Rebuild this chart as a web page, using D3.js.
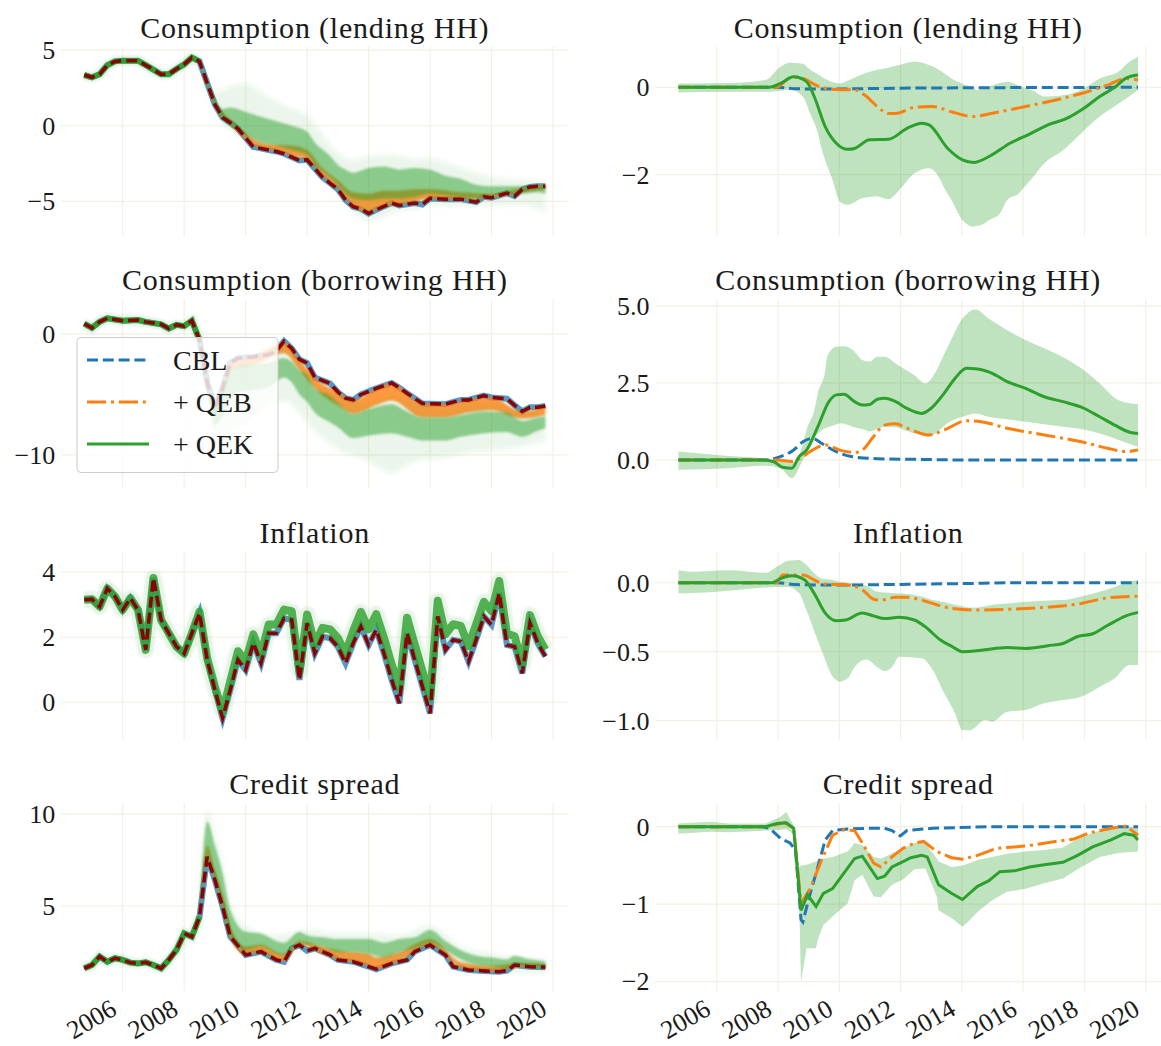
<!DOCTYPE html>
<html>
<head>
<meta charset="utf-8">
<script src="https://cdn.jsdelivr.net/npm/d3@7"></script>
<style>
body { margin: 0; background: #fff; }
svg text { font-family: "Liberation Serif", "DejaVu Serif", serif; fill: #1a1a1a; }
</style>
</head>
<body>
<svg id="chart" width="1161" height="1046"></svg>
<script>
// ---- data: left column (data vs. counterfactual paths), [year, value] or [year, lo, hi]
var lendActual = [[2004.75,3.35],[2005,3.2],[2005.25,3.4],[2005.5,4.0],[2005.75,4.25],[2006,4.3],[2006.5,4.3],[2006.75,4.0],[2007.25,3.4],[2007.5,3.4],[2007.75,3.75],[2008,4.05],[2008.25,4.5],[2008.5,4.25],[2008.75,2.8],[2009,1.4],[2009.25,0.55],[2009.5,0.2],[2009.75,-0.2],[2010.25,-1.4],[2010.75,-1.6],[2011,-1.7],[2011.25,-1.85],[2011.75,-2.3],[2012,-2.25],[2012.5,-3.4],[2012.75,-3.8],[2013,-4.2],[2013.25,-4.9],[2013.5,-5.35],[2013.75,-5.5],[2014,-5.8],[2014.25,-5.55],[2014.75,-5.1],[2015,-5.27],[2015.5,-5.1],[2015.75,-5.2],[2016,-4.8],[2016.5,-4.85],[2017,-4.85],[2017.5,-5.05],[2017.75,-4.7],[2018,-4.75],[2018.5,-4.45],[2018.75,-4.65],[2019,-4.2],[2019.25,-4.05],[2019.5,-4.0],[2019.75,-4.0]];
var lendGreenCore = [[2008.5,4.15,4.3],[2008.75,2.6,3.0],[2009,1.3,1.8],[2009.25,0.4,1.1],[2009.5,0.0,1.2],[2009.75,-0.3,1.1],[2010,-0.6,0.9],[2010.5,-1.1,0.6],[2011,-1.3,0.3],[2011.5,-1.6,0.0],[2012,-1.9,-0.4],[2012.25,-2.6,-1.1],[2012.75,-3.4,-2.0],[2013,-3.9,-2.6],[2013.25,-4.5,-2.9],[2013.5,-4.8,-3.1],[2014,-4.9,-2.8],[2014.5,-4.8,-2.7],[2015,-4.8,-2.9],[2015.5,-4.7,-2.8],[2016,-4.5,-2.9],[2016.5,-4.6,-3.3],[2017,-4.7,-3.5],[2017.5,-4.8,-3.9],[2018,-4.6,-4.0],[2018.5,-4.5,-4.0],[2019,-4.5,-4.0],[2019.5,-4.4,-3.9],[2019.75,-4.5,-4.0]];
var lendGreenOuter = [[2008.5,4.1,4.4],[2008.75,2.5,3.2],[2009,1.0,2.2],[2009.5,-0.3,2.6],[2010,-0.9,2.8],[2010.5,-1.4,2.2],[2011,-1.7,1.6],[2011.5,-1.9,1.1],[2012,-2.3,0.7],[2012.5,-3.2,-0.6],[2013,-4.4,-1.8],[2013.5,-5.6,-2.3],[2014,-6.3,-2.0],[2014.5,-6.0,-1.9],[2015,-5.6,-2.0],[2015.5,-5.5,-2.2],[2016,-5.2,-2.2],[2017,-5.3,-2.8],[2018,-5.3,-3.4],[2019,-5.2,-3.6],[2019.75,-5.8,-3.8]];
var lendOrange = [[2008.5,4.2,4.3],[2008.75,2.7,2.9],[2009,1.3,1.6],[2009.5,0.1,0.4],[2010,-0.9,-0.5],[2010.5,-1.5,-1.1],[2011,-1.65,-1.25],[2011.5,-2.0,-1.3],[2012,-2.2,-1.6],[2012.5,-3.3,-2.8],[2013,-4.1,-3.6],[2013.5,-5.3,-4.4],[2014,-5.7,-4.5],[2014.5,-5.3,-4.3],[2015,-5.2,-4.3],[2015.5,-5.0,-4.2],[2016,-4.8,-4.2],[2017,-4.85,-4.4],[2018,-4.75,-4.5],[2019,-4.4,-4.1],[2019.75,-4.2,-3.9]];

var borrowActual = [[2004.75,0.85],[2005,0.5],[2005.25,1.0],[2005.5,1.3],[2006,1.1],[2006.5,1.15],[2006.75,1.0],[2007.25,0.8],[2007.5,0.45],[2007.75,0.75],[2008,0.65],[2008.25,1.1],[2008.5,-0.5],[2008.75,-4.0],[2009,-6.1],[2009.25,-4.5],[2009.5,-2.4],[2009.75,-2.0],[2010.25,-1.9],[2010.75,-1.7],[2011,-1.4],[2011.25,-0.6],[2011.5,-1.2],[2011.75,-2.1],[2012,-2.4],[2012.25,-3.6],[2012.75,-4.1],[2013,-4.8],[2013.25,-5.3],[2013.5,-5.45],[2013.75,-5.0],[2014.25,-4.5],[2014.75,-4.05],[2015,-4.45],[2015.25,-4.9],[2015.75,-5.75],[2016.5,-5.8],[2017,-5.45],[2017.25,-5.45],[2017.75,-5.1],[2018,-5.25],[2018.5,-5.35],[2018.75,-5.9],[2019,-6.4],[2019.25,-6.05],[2019.5,-6.05],[2019.75,-5.95]];
var borrowGreenCore = [[2008.5,-0.8,-0.3],[2008.75,-4.6,-3.8],[2009,-7.5,-6.0],[2009.25,-6.8,-4.8],[2009.5,-5.3,-3.0],[2009.75,-4.8,-2.6],[2010.25,-4.6,-2.5],[2010.75,-4.4,-2.4],[2011,-3.9,-2.1],[2011.25,-3.6,-2.0],[2011.5,-4.0,-2.3],[2011.75,-5.0,-3.0],[2012,-5.6,-3.4],[2012.25,-6.5,-4.5],[2012.75,-7.3,-5.1],[2013,-7.7,-5.7],[2013.5,-8.6,-6.6],[2014,-8.4,-6.2],[2014.75,-8.2,-5.8],[2015.25,-8.5,-6.4],[2015.75,-8.8,-6.9],[2016.5,-8.8,-6.9],[2017,-8.5,-6.7],[2017.75,-8.2,-6.4],[2018.5,-8.1,-6.5],[2018.75,-8.3,-6.9],[2019,-8.5,-7.2],[2019.5,-8.0,-6.9],[2019.75,-7.8,-6.8]];
var borrowGreenOuter = [[2008.5,-1.0,-0.2],[2008.75,-5.0,-3.5],[2009,-9.0,-5.5],[2009.5,-8.5,-2.8],[2010.25,-7.0,-2.0],[2011.25,-5.5,-1.0],[2012.25,-8.0,-4.2],[2013,-9.5,-5.3],[2014,-10.5,-5.8],[2014.75,-11.5,-5.2],[2015.5,-10.5,-5.8],[2016.5,-10.2,-6.3],[2017.5,-9.7,-5.8],[2018.5,-9.5,-6.0],[2019.75,-8.8,-6.5]];
var borrowOrange = [[2008.5,-0.6,-0.4],[2008.75,-4.2,-3.9],[2009,-6.4,-6.0],[2009.5,-3.0,-2.4],[2010.25,-2.6,-1.9],[2011.25,-1.6,-0.7],[2011.75,-3.0,-2.1],[2012.25,-4.5,-3.6],[2013,-5.9,-4.8],[2013.5,-6.6,-5.45],[2014.25,-5.9,-4.5],[2014.75,-5.5,-4.05],[2015.75,-6.9,-5.75],[2016.5,-6.9,-5.8],[2017.25,-6.5,-5.45],[2018,-6.3,-5.25],[2019,-7.0,-6.4],[2019.75,-6.7,-5.95]];

// inflation is quarterly, 2004Q4 .. 2019Q4
var inflActual = [3.15,3.17,2.94,3.5,3.25,2.84,3.2,2.84,1.61,3.82,2.53,2.12,1.71,1.5,2.12,2.74,1.3,0.38,-0.49,0.38,1.3,0.99,1.82,1.2,2.12,2.12,2.58,2.53,0.69,2.43,1.5,2.02,1.97,1.71,1.2,1.82,2.33,1.76,2.23,1.5,0.69,-0.03,2.12,1.3,0.48,-0.34,2.64,1.61,1.92,1.87,1.25,1.92,2.64,2.38,3.35,1.76,1.71,0.89,2.43,1.82,1.41];
var inflGreen = [3.15,3.17,2.94,3.5,3.25,2.84,3.2,2.84,1.61,3.82,2.53,2.12,1.71,1.5,2.12,2.79,1.35,0.48,-0.29,0.65,1.57,1.26,2.09,1.47,2.39,2.39,2.85,2.8,0.96,2.7,1.77,2.29,2.24,1.98,1.5,2.2,2.78,2.24,2.71,1.98,1.17,0.45,2.6,1.78,0.96,0.14,3.12,2.09,2.4,2.35,1.73,2.4,3.09,2.8,3.73,2.11,2.03,1.17,2.68,2.04,1.62];

var creditActual = [[2004.75,1.61],[2005,1.79],[2005.25,2.25],[2005.5,1.97],[2005.75,2.16],[2006,2.07],[2006.25,1.92],[2006.5,1.88],[2006.75,1.94],[2007,1.79],[2007.25,1.61],[2007.5,2.07],[2007.75,2.61],[2008,3.51],[2008.25,3.33],[2008.5,4.42],[2008.75,7.68],[2009,6.41],[2009.25,4.96],[2009.5,3.33],[2010,2.34],[2010.5,2.52],[2011,2.07],[2011.25,1.97],[2011.5,2.7],[2011.75,2.88],[2012,2.57],[2012.25,2.7],[2012.75,2.34],[2013,2.07],[2013.5,1.97],[2014,1.7],[2014.25,1.56],[2014.75,1.88],[2015.25,2.07],[2015.5,2.52],[2016,2.88],[2016.5,2.34],[2016.75,1.7],[2017.25,1.52],[2017.75,1.47],[2018.25,1.43],[2018.5,1.49],[2018.75,1.79],[2019.25,1.7],[2019.75,1.67]];
var creditGreenCore = [[2008.5,4.3,4.9],[2008.75,7.7,9.6],[2009,6.5,8.3],[2009.25,5.0,6.8],[2009.5,3.4,4.8],[2010,2.6,3.6],[2010.5,2.8,3.5],[2011,2.4,3.1],[2011.25,2.3,3.0],[2011.75,3.0,3.6],[2012,2.9,3.4],[2012.5,2.8,3.3],[2013,2.5,3.2],[2013.5,2.5,3.2],[2014,2.4,3.2],[2014.5,2.2,3.0],[2015,2.5,3.2],[2015.5,2.7,3.3],[2016,3.0,3.7],[2016.5,2.6,3.1],[2017,2.1,2.6],[2017.5,1.8,2.3],[2018,1.7,2.2],[2018.5,1.6,2.1],[2018.75,1.8,2.3],[2019.25,1.7,2.1],[2019.75,1.6,2.0]];
var creditGreenOuter = [[2008.5,4.2,5.2],[2008.75,7.5,10.2],[2009,6.3,8.8],[2009.25,4.8,7.2],[2009.5,3.3,5.1],[2010,2.4,3.9],[2011,2.2,3.4],[2012,2.6,3.7],[2013,2.2,3.5],[2014,2.0,3.5],[2015,2.1,3.4],[2016,2.7,3.9],[2017,1.8,2.8],[2018,1.4,2.4],[2019,1.4,2.2],[2019.75,1.4,2.1]];
var creditOrange = [[2008.5,4.35,4.6],[2008.75,7.6,8.3],[2009,6.4,7.0],[2009.25,4.9,5.6],[2009.5,3.3,3.9],[2010,2.35,2.8],[2010.5,2.5,2.9],[2011,2.1,2.5],[2011.25,2.0,2.4],[2011.75,2.9,3.1],[2012.5,2.4,2.8],[2013,2.1,2.6],[2014,1.75,2.4],[2014.25,1.6,2.2],[2015,2.0,2.5],[2016,2.9,3.2],[2017,1.65,1.95],[2018,1.45,1.75],[2019,1.7,1.9],[2019.75,1.65,1.85]];

// ---- data: right column (effects), [year, value] and band [year, lo, hi]
var r1CBL = [[2004.75,0],[2008.0,0],[2008.5,-0.03],[2009.5,-0.04],[2012,-0.02],[2019.75,0]];
var r1QEB = [[2004.75,0],[2007.96,0],[2008.2,0.12],[2008.45,0.24],[2008.7,0.22],[2008.93,0.17],[2009.2,0.06],[2009.42,0],[2009.9,-0.05],[2010.5,-0.06],[2010.87,-0.2],[2011.24,-0.44],[2011.6,-0.6],[2011.84,-0.6],[2012.45,-0.46],[2013.05,-0.44],[2013.66,-0.56],[2014.39,-0.67],[2014.87,-0.61],[2016.08,-0.44],[2017.3,-0.25],[2017.9,-0.14],[2018.75,0.05],[2019.36,0.2],[2019.75,0.17]];
var r1QEK = [[2004.75,0],[2007.72,0],[2008.08,0.09],[2008.51,0.24],[2008.93,0.13],[2009.18,-0.21],[2009.54,-0.9],[2009.9,-1.28],[2010.27,-1.42],[2010.5,-1.4],[2010.99,-1.2],[2011.6,-1.19],[2012.21,-0.94],[2012.69,-0.82],[2012.93,-0.86],[2013.54,-1.4],[2014.02,-1.66],[2014.39,-1.72],[2014.87,-1.59],[2015.6,-1.27],[2016.21,-1.07],[2016.81,-0.86],[2017.42,-0.71],[2018.02,-0.46],[2018.5,-0.21],[2018.99,0],[2019.36,0.21],[2019.75,0.28]];
var r1Band = [[2004.75,-0.12,0.09],[2006.39,-0.1,0.1],[2007.6,-0.1,0.17],[2008.08,-0.08,0.47],[2008.39,-0.05,0.56],[2008.81,-0.21,0.54],[2009.05,-0.6,0.4],[2009.3,-1.05,0.3],[2009.42,-1.4,0.24],[2009.78,-2.12,0.12],[2010.02,-2.62,0.09],[2010.27,-2.69,0.15],[2010.75,-2.54,0.3],[2011.24,-2.5,0.4],[2011.6,-2.56,0.45],[2011.96,-2.35,0.51],[2012.45,-1.97,0.59],[2012.93,-1.85,0.51],[2013.3,-2.12,0.38],[2013.42,-2.3,0.32],[2013.66,-2.58,0.2],[2014.02,-3.04,0.08],[2014.39,-3.19,-0.02],[2014.51,-3.17,-0.06],[2014.75,-3.11,0.0],[2014.87,-3.05,0.02],[2015.24,-2.89,0.1],[2015.48,-2.58,0.13],[2015.84,-2.44,0.05],[2016.08,-2.25,-0.02],[2016.33,-2.05,-0.08],[2016.69,-1.74,-0.21],[2017.3,-1.44,-0.18],[2017.9,-1.05,-0.06],[2018.5,-0.67,0.2],[2019.12,-0.37,0.36],[2019.48,-0.2,0.59],[2019.75,-0.06,0.7]];

var r2CBL = [[2004.75,0],[2007.6,0],[2008.08,0.11],[2008.51,0.32],[2008.81,0.59],[2009.12,0.7],[2009.42,0.54],[2009.9,0.27],[2010.39,0.11],[2011.24,0.04],[2012.45,0.02],[2014,0],[2019.75,0]];
var r2QEB = [[2004.75,0],[2007.96,0],[2008.45,-0.05],[2008.81,0.11],[2009.12,0.32],[2009.54,0.49],[2010.02,0.32],[2010.5,0.24],[2010.75,0.32],[2011.12,0.76],[2011.48,1.13],[2011.84,1.17],[2012.21,1.03],[2012.93,0.81],[2013.42,0.97],[2014.15,1.27],[2014.63,1.24],[2015.48,1.03],[2016.69,0.81],[2017.9,0.59],[2018.75,0.38],[2019.36,0.27],[2019.75,0.32]];
var r2QEK = [[2004.75,0],[2007.48,0],[2007.84,-0.05],[2008.15,-0.24],[2008.45,-0.27],[2008.69,0.11],[2008.93,0.32],[2009.3,1.08],[2009.66,1.89],[2009.9,2.11],[2010.15,2.13],[2010.5,1.89],[2010.75,1.78],[2010.99,1.8],[2011.24,1.97],[2011.48,2.0],[2011.84,1.89],[2012.21,1.67],[2012.69,1.51],[2012.99,1.67],[2013.42,2.16],[2013.78,2.65],[2014.15,2.97],[2014.51,2.95],[2014.99,2.81],[2015.48,2.54],[2016.08,2.32],[2016.69,2.05],[2017.3,1.89],[2017.9,1.71],[2018.5,1.4],[2018.99,1.13],[2019.48,0.9],[2019.75,0.86]];
var r2Band = [[2004.75,-0.32,0.27],[2006.39,-0.27,0.13],[2007.6,-0.19,0.05],[2008.08,-0.27,-0.05],[2008.45,-0.59,-0.1],[2008.81,0.0,0.5],[2008.93,0.2,0.97],[2009.18,0.76,1.6],[2009.3,0.85,2.16],[2009.54,1.03,2.9],[2009.6,1.05,3.35],[2009.9,1.15,3.67],[2010.02,1.19,3.68],[2010.15,1.17,3.69],[2010.45,1.07,3.56],[2010.75,1.0,3.24],[2010.99,0.92,3.19],[2011.24,1.0,3.35],[2011.48,1.08,3.35],[2011.84,1.06,3.13],[2011.96,1.03,3.05],[2012.45,0.86,2.75],[2012.81,0.78,2.48],[2012.93,0.76,2.55],[2013.05,0.8,2.7],[2013.54,1.2,3.67],[2014.02,1.4,4.59],[2014.45,1.51,4.88],[2014.87,1.4,4.59],[2015.48,1.32,4.21],[2016.08,1.24,3.89],[2016.69,1.16,3.62],[2017.3,1.08,3.33],[2017.9,1.0,2.97],[2018.5,0.86,2.48],[2019.12,0.65,1.94],[2019.75,0.43,1.81]];

var r3CBL = [[2004.75,0],[2008.0,0],[2008.5,-0.012],[2009.5,-0.017],[2012.0,-0.012],[2014.0,-0.006],[2016.0,0],[2019.75,0]];
var r3QEB = [[2004.75,0],[2007.96,0],[2008.15,0.056],[2008.81,0.056],[2009.3,0.007],[2009.54,-0.01],[2010.27,-0.017],[2010.75,-0.05],[2011.12,-0.12],[2011.36,-0.126],[2011.84,-0.106],[2012.21,-0.106],[2012.69,-0.126],[2013.18,-0.16],[2013.66,-0.186],[2014.39,-0.198],[2015.48,-0.193],[2016.69,-0.179],[2017.9,-0.15],[2018.75,-0.11],[2019.75,-0.097]];
var r3QEK = [[2004.75,0],[2007.8,0],[2008.08,0.03],[2008.45,0.05],[2008.87,0.02],[2009.18,-0.077],[2009.54,-0.22],[2009.9,-0.275],[2010.21,-0.27],[2010.75,-0.22],[2011.12,-0.24],[2011.48,-0.26],[2011.96,-0.25],[2012.45,-0.27],[2012.81,-0.32],[2013.3,-0.415],[2013.66,-0.46],[2014.02,-0.5],[2014.63,-0.49],[2015.48,-0.47],[2016.08,-0.476],[2016.81,-0.456],[2017.3,-0.44],[2017.78,-0.39],[2018.27,-0.37],[2018.75,-0.31],[2019.36,-0.24],[2019.75,-0.215]];
var r3Band = [[2004.75,-0.077,0.09],[2005.18,-0.075,0.08],[2006.39,-0.058,0.09],[2007.6,-0.034,0.072],[2007.96,-0.03,0.116],[2008.33,-0.03,0.16],[2008.69,-0.077,0.164],[2008.93,-0.2,0.128],[2009.05,-0.27,0.1],[2009.18,-0.35,0.068],[2009.42,-0.49,0.03],[2009.78,-0.68,0.02],[2010.02,-0.717,0.007],[2010.27,-0.693,0.0],[2010.5,-0.61,-0.005],[2010.87,-0.556,-0.02],[2011.24,-0.61,-0.065],[2011.48,-0.64,-0.07],[2011.72,-0.61,-0.075],[2011.96,-0.536,-0.077],[2012.69,-0.548,-0.1],[2013.05,-0.633,-0.126],[2013.42,-0.8,-0.14],[2013.78,-0.947,-0.16],[2014.02,-1.068,-0.17],[2014.27,-1.07,-0.18],[2014.39,-1.056,-0.18],[2014.75,-0.995,-0.17],[2014.99,-1.007,-0.16],[2015.48,-0.935,-0.15],[2016.08,-0.923,-0.138],[2016.69,-0.874,-0.13],[2017.3,-0.85,-0.126],[2017.9,-0.826,-0.1],[2018.5,-0.754,-0.065],[2018.99,-0.693,-0.03],[2019.48,-0.597,0.007],[2019.75,-0.597,0.02]];

var r4CBL = [[2004.75,0],[2007.48,0],[2007.72,-0.02],[2008.08,-0.15],[2008.39,-0.21],[2008.57,-0.3],[2008.75,-1.2],[2008.81,-1.23],[2009.05,-0.86],[2009.3,-0.52],[2009.54,-0.17],[2009.78,-0.05],[2010.27,-0.03],[2011.0,-0.02],[2011.48,-0.02],[2011.72,-0.05],[2011.99,-0.12],[2012.21,-0.05],[2013.05,-0.02],[2014.87,0],[2019.75,0]];
var r4QEB = [[2004.75,0],[2007.6,0],[2008.21,0.05],[2008.51,-0.02],[2008.75,-0.99],[2009.05,-0.8],[2009.42,-0.43],[2009.78,-0.11],[2010.15,-0.04],[2010.5,-0.05],[2010.75,-0.21],[2011.12,-0.47],[2011.36,-0.52],[2011.72,-0.39],[2012.08,-0.28],[2012.45,-0.21],[2012.75,-0.19],[2013.18,-0.32],[2013.66,-0.4],[2014.02,-0.42],[2014.51,-0.37],[2015.12,-0.28],[2016.08,-0.25],[2017.05,-0.19],[2017.66,-0.16],[2018.15,-0.08],[2018.87,-0.02],[2019.36,0.01],[2019.75,-0.11]];
var r4QEK = [[2004.75,0],[2007.6,0],[2007.96,0.04],[2008.27,0.05],[2008.51,-0.02],[2008.75,-1.08],[2008.96,-0.88],[2009.24,-1.03],[2009.48,-0.86],[2009.78,-0.8],[2010.15,-0.6],[2010.5,-0.41],[2010.75,-0.38],[2011.24,-0.67],[2011.48,-0.64],[2011.72,-0.52],[2012.08,-0.45],[2012.33,-0.4],[2012.69,-0.37],[2012.87,-0.39],[2013.24,-0.75],[2013.66,-0.86],[2014.02,-0.94],[2014.51,-0.77],[2014.87,-0.7],[2015.24,-0.58],[2015.72,-0.57],[2016.21,-0.52],[2016.69,-0.49],[2017.3,-0.46],[2017.78,-0.37],[2018.27,-0.26],[2018.87,-0.17],[2019.3,-0.09],[2019.6,-0.11],[2019.75,-0.17]];
var r4Band = [[2004.75,-0.09,0.04],[2005.78,-0.065,0.065],[2006.39,-0.07,0.04],[2007.6,-0.05,0.04],[2008.08,-0.04,0.13],[2008.27,-0.03,0.19],[2008.51,-0.1,0.02],[2008.69,-1.0,-0.52],[2008.75,-2.0,-0.5],[2008.93,-1.57,-0.49],[2009.24,-1.57,-0.45],[2009.3,-1.45,-0.43],[2009.48,-1.27,-0.41],[2009.78,-1.16,-0.39],[2010.27,-0.99,-0.32],[2010.5,-0.69,-0.21],[2010.75,-0.62,-0.24],[2011.12,-0.9,-0.39],[2011.36,-0.91,-0.41],[2011.6,-0.8,-0.37],[2011.72,-0.75,-0.34],[2012.08,-0.68,-0.28],[2012.45,-0.55,-0.21],[2012.81,-0.54,-0.21],[2013.18,-0.9,-0.41],[2013.24,-1.08,-0.45],[2013.66,-1.18,-0.52],[2014.02,-1.29,-0.5],[2014.27,-1.2,-0.47],[2014.51,-1.1,-0.43],[2014.99,-0.95,-0.39],[2015.48,-0.84,-0.35],[2016.08,-0.8,-0.32],[2016.69,-0.73,-0.3],[2017.3,-0.67,-0.27],[2017.9,-0.52,-0.13],[2018.5,-0.39,-0.05],[2019.12,-0.34,-0.01],[2019.75,-0.32,0]];

var titles = ["Consumption (lending HH)", "Consumption (borrowing HH)", "Inflation", "Credit spread"];
var yearTicks = [2006, 2008, 2010, 2012, 2014, 2016, 2018, 2020];
var legendLabels = ["CBL", "+ QEB", "+ QEK"];

// ---- layout
var C = { blue: "#1f77b4", orange: "#ff7f0e", green: "#2ca02c", red: "#8b0000", grid: "#f3f0e2" };
var colX = [[61.2, 568.4], [655.5, 1161]];
var rowY = [[46.7, 236.7], [299, 488], [551.7, 740], [803, 991.7]];
var dashCBL = "11,4.8", dashQEB = "19.2,4.8,3,4.8";
var tickSize = 26;

var svg = d3.select("#chart");
var defs = svg.append("defs");
//soft edges for the path clouds (region in user space so nothing gets cut)
function blur(id, sd) {
	defs.append("filter").attr("id", id).attr("filterUnits", "userSpaceOnUse")
		.attr("x", 0).attr("y", 0).attr("width", 1161).attr("height", 1046)
		.append("feGaussianBlur").attr("stdDeviation", sd);
}
blur("soft", 1.0);
blur("softer", 2.5);
var nclip = 0;

function frame(col, row, dom, ticks, fmt) {
	var x = d3.scaleLinear().domain([2004, 2020.5]).range(colX[col]);
	var y = d3.scaleLinear().domain(dom).range([rowY[row][1], rowY[row][0]]);
	var g = svg.append("g");
	//grid
	g.selectAll(".vg").data(yearTicks).enter().append("line")
		.attr("x1", x).attr("x2", x)
		.attr("y1", rowY[row][0]).attr("y2", rowY[row][1])
		.attr("stroke", C.grid).attr("stroke-width", 1.2);
	g.selectAll(".hg").data(ticks).enter().append("line")
		.attr("x1", colX[col][0]).attr("x2", colX[col][1])
		.attr("y1", y).attr("y2", y)
		.attr("stroke", C.grid).attr("stroke-width", 1.2);
	//y labels
	g.selectAll(".yl").data(ticks).enter().append("text")
		.attr("x", colX[col][0] - 6).attr("y", y).attr("dy", "0.34em")
		.attr("text-anchor", "end").attr("font-size", tickSize)
		.text(d3.format(fmt));
	//title
	g.append("text")
		.attr("x", (colX[col][0] + colX[col][1]) / 2).attr("y", rowY[row][0] - 9)
		.attr("text-anchor", "middle").attr("font-size", 30).attr("letter-spacing", 0.8)
		.text(titles[row]);
	//x labels on last row, rotated 30 deg, right end at the tick
	if (row == 3) {
		g.selectAll(".xl").data(yearTicks).enter().append("text")
			.attr("transform", function(d) { return "translate(" + (x(d) - 4.5) + "," + (rowY[row][1] + 22) + ") rotate(-30)"; })
			.attr("text-anchor", "end").attr("font-size", tickSize)
			.text(function(d) { return d; });
	}
	var id = "clip" + (nclip++);
	defs.append("clipPath").attr("id", id).append("rect")
		.attr("x", colX[col][0]).attr("y", rowY[row][0])
		.attr("width", colX[col][1] - colX[col][0]).attr("height", rowY[row][1] - rowY[row][0]);
	var plot = g.append("g").attr("clip-path", "url(#" + id + ")");
	return { plot: plot, x: x, y: y };
}

function lineOf(f, curve) {
	return d3.line().x(function(d) { return f.x(d[0]); }).y(function(d) { return f.y(d[1]); }).curve(curve || d3.curveLinear);
}
function areaOf(f, curve) {
	return d3.area().x(function(d) { return f.x(d[0]); })
		.y0(function(d) { return f.y(d[1]); }).y1(function(d) { return f.y(d[2]); })
		.curve(curve || d3.curveLinear);
}

// left: ensemble clouds around the data
function drawLeft(row, dom, ticks, s) {
	var f = frame(0, row, dom, ticks, "d");
	var line = lineOf(f), area = areaOf(f, d3.curveMonotoneX);
	f.plot.append("path").attr("d", line(s.actual)).attr("fill", "none")
		.attr("stroke", C.blue).attr("stroke-width", 6).attr("stroke-opacity", 0.75);
	if (s.orange) {
		f.plot.append("path").attr("d", area(s.orange)).attr("fill", C.orange).attr("fill-opacity", 0.8)
			.attr("filter", "url(#soft)");
	}
	if (s.outer) {
		f.plot.append("path").attr("d", area(s.outer)).attr("fill", C.green).attr("fill-opacity", 0.1)
			.attr("filter", "url(#softer)");
	}
	if (s.core) {
		f.plot.append("path").attr("d", area(s.core)).attr("fill", C.green).attr("fill-opacity", 0.5)
			.attr("filter", "url(#soft)");
	}
	if (s.split) {
		var pre = s.actual.filter(function(d) { return d[0] <= s.split; });
		f.plot.append("path").attr("d", line(pre)).attr("fill", "none")
			.attr("stroke", C.green).attr("stroke-width", 10).attr("stroke-opacity", 0.15).attr("filter", "url(#soft)");
		f.plot.append("path").attr("d", line(pre)).attr("fill", "none")
			.attr("stroke", C.green).attr("stroke-width", 5.5);
	}
	if (s.greenLine) {
		f.plot.append("path").attr("d", line(s.greenLine)).attr("fill", "none")
			.attr("stroke", C.green).attr("stroke-width", 16).attr("stroke-opacity", 0.12).attr("stroke-linejoin", "round")
			.attr("filter", "url(#soft)");
		f.plot.append("path").attr("d", line(s.greenLine)).attr("fill", "none")
			.attr("stroke", C.green).attr("stroke-width", 8).attr("stroke-opacity", 0.8).attr("stroke-linejoin", "round");
	}
	f.plot.append("path").attr("d", line(s.actual)).attr("fill", "none")
		.attr("stroke", C.red).attr("stroke-width", 3.5).attr("stroke-dasharray", "11,5");
}

// right: effects with band
function drawRight(row, dom, ticks, fmt, s, curve) {
	var f = frame(1, row, dom, ticks, fmt);
	var line = lineOf(f, curve), area = areaOf(f, curve);
	f.plot.append("path").attr("d", area(s.band)).attr("fill", C.green).attr("fill-opacity", 0.3);
	f.plot.append("path").attr("d", line(s.cbl)).attr("fill", "none")
		.attr("stroke", C.blue).attr("stroke-width", 3).attr("stroke-dasharray", dashCBL);
	f.plot.append("path").attr("d", line(s.qeb)).attr("fill", "none")
		.attr("stroke", C.orange).attr("stroke-width", 3).attr("stroke-dasharray", dashQEB);
	f.plot.append("path").attr("d", line(s.qek)).attr("fill", "none")
		.attr("stroke", C.green).attr("stroke-width", 3);
}

var quarters = inflActual.map(function(v, i) { return 2004.75 + i * 0.25; });

drawLeft(0, [-7.33, 5.22], [-5, 0, 5], { actual: lendActual, orange: lendOrange, outer: lendGreenOuter, core: lendGreenCore, split: 2008.5 });
drawLeft(1, [-12.73, 2.89], [-10, 0], { actual: borrowActual, orange: borrowOrange, outer: borrowGreenOuter, core: borrowGreenCore, split: 2008.5 });
drawLeft(2, [-1.16, 4.63], [0, 2, 4], {
	actual: inflActual.map(function(v, i) { return [quarters[i], v]; }),
	greenLine: inflGreen.map(function(v, i) { return [quarters[i], v]; })
});
drawLeft(3, [0.34, 10.6], [5, 10], { actual: creditActual, orange: creditOrange, outer: creditGreenOuter, core: creditGreenCore, split: 2008.5 });

drawRight(0, [-3.42, 0.93], [-2, 0], "d", { band: r1Band, cbl: r1CBL, qeb: r1QEB, qek: r1QEK }, d3.curveMonotoneX);
drawRight(1, [-0.91, 5.22], [0, 2.5, 5], ".1f", { band: r2Band, cbl: r2CBL, qeb: r2QEB, qek: r2QEK }, d3.curveMonotoneX);
drawRight(2, [-1.14, 0.225], [-1, -0.5, 0], ".1f", { band: r3Band, cbl: r3CBL, qeb: r3QEB, qek: r3QEK }, d3.curveMonotoneX);
drawRight(3, [-2.13, 0.306], [-2, -1, 0], "d", { band: r4Band, cbl: r4CBL, qeb: r4QEB, qek: r4QEK });

// legend (second row, left)
var leg = svg.append("g");
leg.append("rect").attr("x", 77).attr("y", 337.5).attr("width", 201).attr("height", 135).attr("rx", 4)
	.attr("fill", "#fff").attr("fill-opacity", 0.8).attr("stroke", "#cccccc").attr("stroke-width", 1);
var legStyle = [{ c: C.blue, dash: dashCBL }, { c: C.orange, dash: dashQEB }, { c: C.green, dash: null }];
var legItems = leg.selectAll(".li").data(legendLabels).enter().append("g")
	.attr("transform", function(d, i) { return "translate(0," + (360 + i * 42) + ")"; });
legItems.append("line").attr("x1", 87).attr("x2", 149)
	.attr("stroke", function(d, i) { return legStyle[i].c; }).attr("stroke-width", 3)
	.attr("stroke-dasharray", function(d, i) { return legStyle[i].dash; });
legItems.append("text").attr("x", 173).attr("dy", "0.36em").attr("font-size", 28)
	.text(function(d) { return d; });
</script>
</body>
</html>
